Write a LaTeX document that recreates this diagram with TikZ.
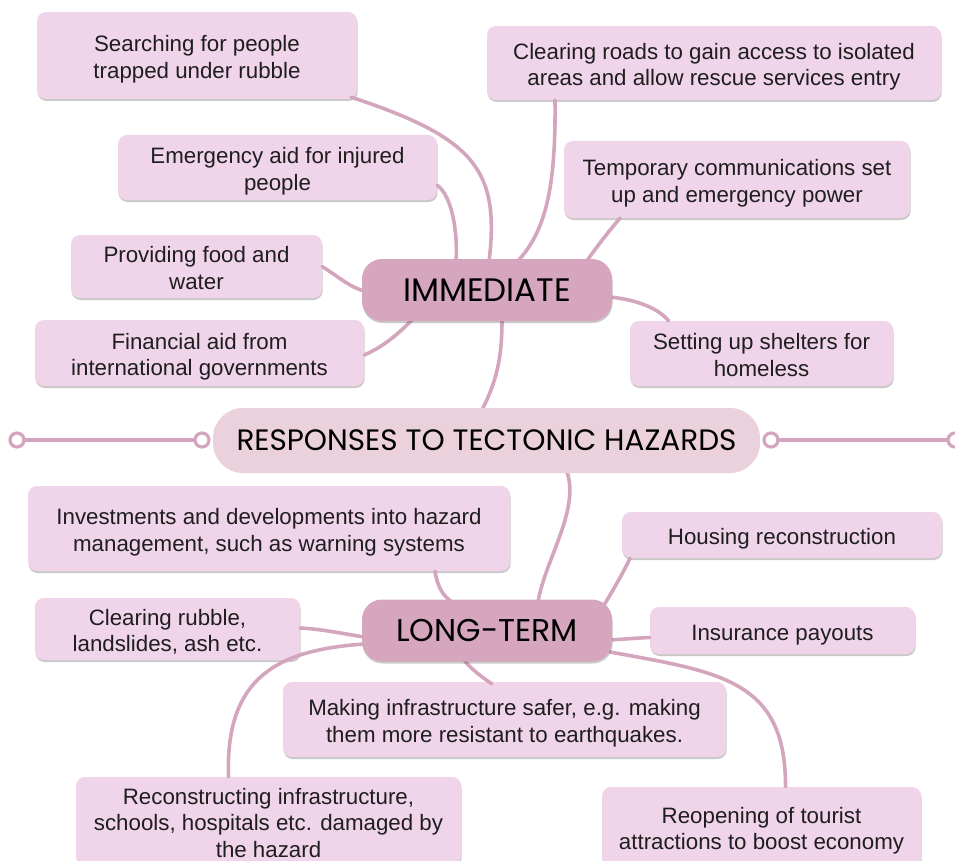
\documentclass[tikz,border=0pt]{standalone}
\usepackage{fontspec}
\setmainfont{Liberation Sans}
\newfontfamily\titlefont{Poppins}
\usetikzlibrary{shadows}
\definecolor{leaf}{HTML}{EFD4EA}
\definecolor{mainc}{HTML}{D5A6BD}
\definecolor{cent}{HTML}{EAD1DC}
\definecolor{link}{HTML}{D4A6BE}
\definecolor{ink}{HTML}{1E1E1E}
\newcommand\lbl[1]{\raisebox{-9.5pt}[0pt][0pt]{\begin{tabular}{@{}c@{}}#1\end{tabular}}}
\begin{document}
\begin{tikzpicture}[x=1pt,y=-1pt,
  shade1/.style={drop shadow={shadow xshift=0.6pt,shadow yshift=-2pt,opacity=0.3,fill=black!70}},
  leafbox/.style={shade1,fill=leaf,rounded corners=9pt,align=center,text=ink,inner sep=0pt,
     font=\fontsize{22.3}{26.5}\selectfont},
  mainbox/.style={shade1,fill=mainc,rounded corners=20pt,align=center,text=black,inner sep=0pt,
     minimum width=250pt,minimum height=62pt},
  centbox/.style={fill=cent,rounded corners=30pt,align=center,text=black,inner sep=0pt,
     minimum width=547pt,minimum height=65pt,font=\titlefont\fontsize{29.5}{34}\selectfont},
  link/.style={draw=link,line width=3.6pt,line cap=round},
  knob/.style={circle,draw=link,line width=3.2pt,fill=white,minimum size=14pt,inner sep=0pt}
]
\useasboundingbox (0,0) rectangle (955,861);

\coordinate (imm) at (487,290);
\coordinate (lt) at (487,630.5);

% leaf nodes
\node[leafbox,minimum width=320pt,minimum height=87pt] (n1) at (197,55.5) {\lbl{Searching for people\\trapped under rubble}};
\node[leafbox,minimum width=454pt,minimum height=74pt] (n2) at (714,63) {\lbl{Clearing roads to gain access to isolated\\areas and allow rescue services entry}};
\node[leafbox,minimum width=319pt,minimum height=65pt] (n3) at (277.5,167.5) {\lbl{Emergency aid for injured\\people}};
\node[leafbox,minimum width=346pt,minimum height=77pt] (n4) at (737,179.5) {\lbl{Temporary communications set\\up and emergency power}};
\node[leafbox,minimum width=251pt,minimum height=63pt] (n5) at (196.5,266.5) {\lbl{Providing food and\\water}};
\node[leafbox,minimum width=329pt,minimum height=66pt] (n6) at (199.5,353) {\lbl{Financial aid from\\international governments}};
\node[leafbox,minimum width=263pt,minimum height=65pt] (n7) at (761.5,353.5) {\lbl{Setting up shelters for\\homeless}};

\node[leafbox,minimum width=482pt,minimum height=85pt] (n8) at (269,528.5) {\lbl{Investments and developments into hazard\\management, such as warning systems}};
\node[leafbox,minimum width=320pt,minimum height=46pt] (n9) at (782,535) {\lbl{Housing reconstruction}};
\node[leafbox,minimum width=265pt,minimum height=62pt] (n10) at (167.5,629) {\lbl{Clearing rubble,\\landslides, ash etc.}};
\node[leafbox,minimum width=265pt,minimum height=47pt] (n11) at (782.5,630.5) {\lbl{Insurance payouts}};
\node[leafbox,minimum width=443pt,minimum height=75pt] (n12) at (504.5,719.5) {\lbl{Making infrastructure safer, e.g. making\\them more resistant to earthquakes.}};
\node[leafbox,minimum width=385pt,minimum height=88pt] (n13) at (268.5,821) {\lbl{Reconstructing infrastructure,\\schools, hospitals etc. damaged by\\the hazard}};
\node[leafbox,minimum width=319pt,minimum height=80pt] (n14) at (761.5,827) {\lbl{Reopening of tourist\\attractions to boost economy}};

% connectors
\draw[link] (n1.south east) ++(-6,-2) .. controls (475,138) and (500,170) .. (489,262);
\draw[link] ([xshift=-159pt]n2.south) .. controls (556,190) and (545,232) .. (517,262);
\draw[link] ([yshift=15pt]n3.south east) .. controls (452,196) and (458,232) .. (456,262);
\draw[link] ([xshift=-117pt]n4.south) .. controls (608,232) and (596,248) .. (586,262);
\draw[link] (n5.east) .. controls (340,278) and (350,287) .. (364,291);
\draw[link] ([yshift=-2pt]n6.east) .. controls (385,346) and (400,332) .. (412,320);
\draw[link] (610,297) .. controls (640,300) and (660,310) .. ([xshift=-93pt]n7.north);
\draw[link] (502,320) .. controls (502,360) and (496,382) .. (482,410);
\draw[link] (567,472) .. controls (580,510) and (545,560) .. (538,602);
\draw[link] ([xshift=166pt]n8.south) .. controls (438,590) and (445,597) .. (452,602);
\draw[link] ([xshift=-152pt]n9.south) .. controls (622,575) and (612,592) .. (604,605);
\draw[link] ([yshift=1pt]n10.east) .. controls (320,629) and (340,633) .. (364,637);
\draw[link] (364,644) .. controls (280,650) and (225,675) .. ([xshift=-40pt]n13.north);
\draw[link] (610,640) .. controls (625,639) and (638,638) .. ([yshift=-7pt]n11.west);
\draw[link] (464,660) .. controls (472,670) and (482,677) .. (492,684);
\draw[link] (610,652) .. controls (720,672) and (786,680) .. ([xshift=24pt]n14.north);

% main nodes
\node[mainbox,font=\titlefont\fontsize{32.5}{36}\selectfont] (immn) at (imm) {IMMEDIATE};
\node[mainbox,font=\titlefont\fontsize{31.5}{36}\selectfont] (ltn) at (lt) {LONG-TERM};
\node[knob] (k1) at (17,440) {};
\node[knob] (k2) at (202,440) {};
\node[knob] (k3) at (771,440) {};
\node[knob] (k4) at (955,440) {};
\draw[link] (k1) -- (k2);
\draw[link] (k3) -- (k4);
\node[centbox] (c) at (486.5,440.5) {RESPONSES TO TECTONIC HAZARDS};
\end{tikzpicture}
\end{document}
